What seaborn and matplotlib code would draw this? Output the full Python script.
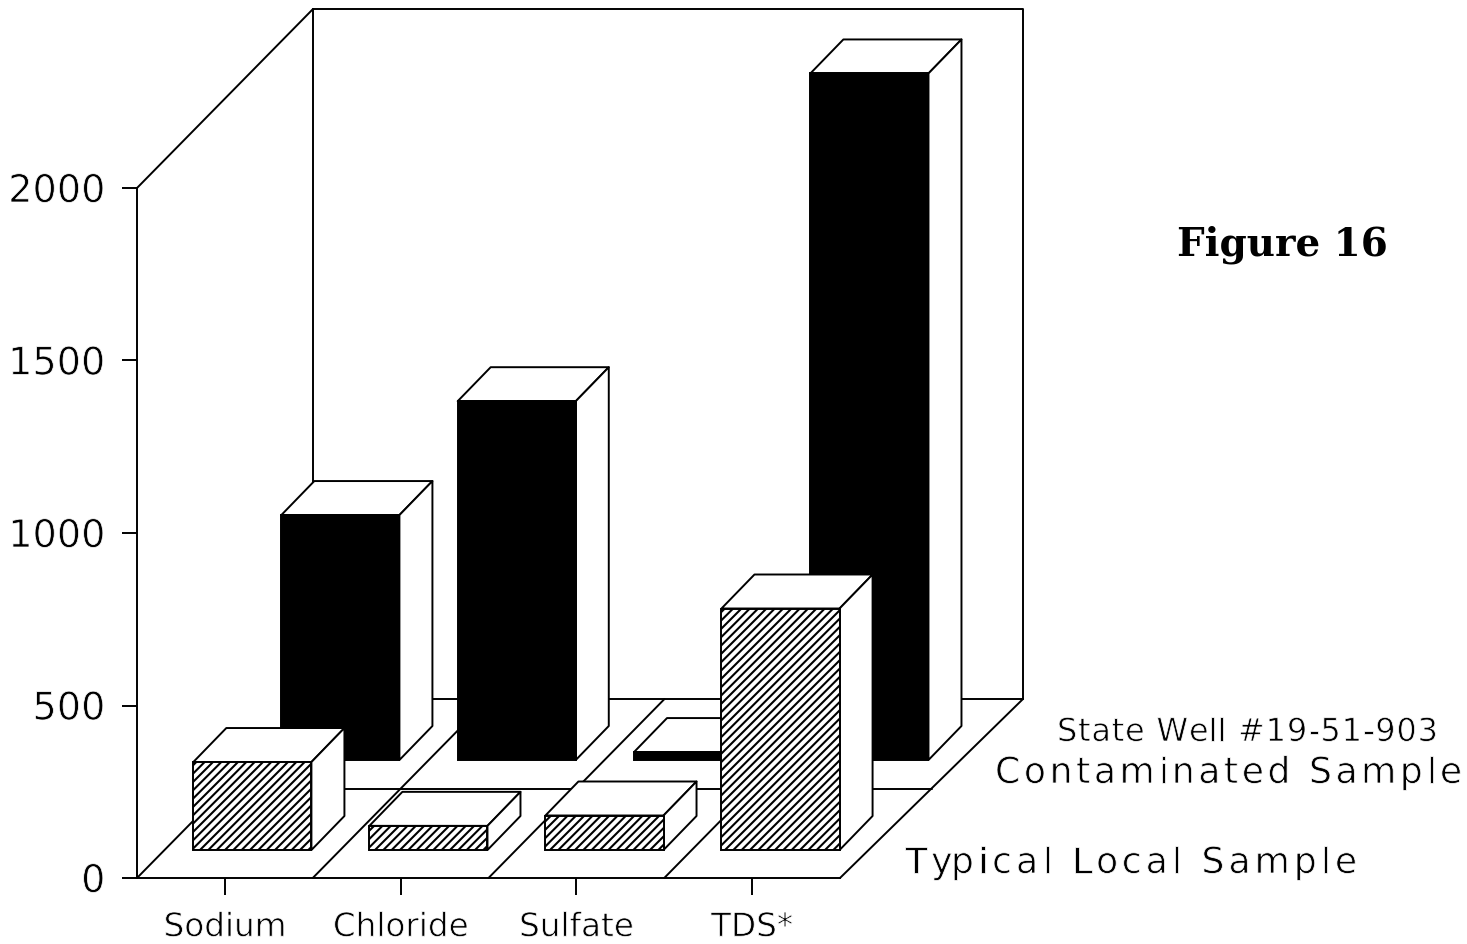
import matplotlib
matplotlib.use("Agg")
import matplotlib.pyplot as plt
import matplotlib.patheffects as pe
from matplotlib.patches import Polygon
from matplotlib.text import Text
from matplotlib.transforms import IdentityTransform
import seaborn as sns

categories = ["Sodium", "Chloride", "Sulfate", "TDS*"]
typical_local = [255, 70, 100, 700]
contaminated = [710, 1040, 23, 1990]
y_ticks = [0, 500, 1000, 1500, 2000]
y_tick_labels = ["0", "500", "1000", "1500", "2000"]

W, H = 1467, 944
sns.set_theme(style="white")
plt.rcParams["font.family"] = ["DejaVu Sans"]
plt.rcParams["hatch.linewidth"] = 1.5

fig = plt.figure(figsize=(W / 100, H / 100), dpi=100, facecolor="white")
L, R, B, T = 137, 840, 878, 188
ax = fig.add_axes([L / W, 1 - B / H, (R - L) / W, (B - T) / H])
ax.patch.set_alpha(0)

PX_X = (R - L) / 4
PX_Y = (B - T) / 2000
ddx = lambda px: px / PX_X
ddy = lambda px: px / PX_Y
LW = 1.4
thin = [pe.Stroke(linewidth=0.55, foreground="white")]


def seg(xs, ys, z=0.5):
    ax.plot(xs, ys, color="black", lw=LW, clip_on=False, zorder=z, solid_capstyle="round")


class TrackedText(Text):
    """One text object whose letters are spread to a given width when drawn."""

    def __init__(self, *args, target_width=None, **kw):
        super().__init__(*args, **kw)
        self.target_width = target_width

    def draw(self, renderer):
        s = self.get_text()
        fp = self.get_fontproperties()
        adv = lambda t: renderer.get_text_width_height_descent(t, fp, False)[0] if t else 0
        track = (self.target_width - adv(s)) / (len(s) - 1)
        x0, y0 = self.get_transform().transform(self.get_position())
        for i, ch in enumerate(s):
            if ch == " ":
                continue
            g = Text(x0 + adv(s[:i]) + i * track, y0, ch, fontproperties=fp, color=self.get_color(),
                     va="baseline", ha="left", transform=IdentityTransform(),
                     path_effects=self.get_path_effects())
            g.set_figure(self.get_figure())
            g.draw(renderer)


sns.barplot(x=categories, y=contaminated, color="black", saturation=1, width=0.672,
            edgecolor="black", linewidth=LW, ax=ax)
back_bars = list(ax.containers[0])
sns.barplot(x=categories, y=typical_local, color="white", saturation=1, width=0.672,
            edgecolor="black", linewidth=LW, hatch="////", ax=ax)
front_bars = list(ax.containers[1])

ax.set_xlim(-0.5, 3.5)
ax.set_ylim(0, 2000)

# walls and floor
D_X, D_X_R, D_Y = ddx(176), ddx(183), ddy(179)
x0, x1 = -0.5, 3.5
seg([x0, x0 + D_X], [2000, 2000 + D_Y])
seg([x0 + D_X, x1 + D_X_R, x1 + D_X_R], [2000 + D_Y, 2000 + D_Y, D_Y])
seg([x0 + D_X, x0 + D_X], [2000 + D_Y, D_Y])
seg([x0 + D_X, x1 + D_X_R], [D_Y, D_Y])
for i in range(4):
    seg([x0 + i, x0 + i + D_X], [0, D_Y])
seg([x1, x1 + D_X_R], [0, D_Y])
seg([x0 + D_X / 2, x1 + D_X_R / 2], [D_Y / 2, D_Y / 2])


def extrude(bars, off_x, spread, off_y, z):
    box_x, box_y = ddx(33), ddy(34)
    for i, bar in enumerate(bars):
        bar.set_x(bar.get_x() + ddx(off_x + spread * i))
        bar.set_y(ddy(off_y))
        bar.set_zorder(z + 0.1)
        bar.set_clip_on(False)
        xa, xb = bar.get_x(), bar.get_x() + bar.get_width()
        yb, yt = bar.get_y(), bar.get_y() + bar.get_height()
        top = [(xa, yt), (xb, yt), (xb + box_x, yt + box_y), (xa + box_x, yt + box_y)]
        side = [(xb, yb), (xb, yt), (xb + box_x, yt + box_y), (xb + box_x, yb + box_y)]
        for verts in (top, side):
            ax.add_patch(Polygon(verts, closed=True, facecolor="white", edgecolor="black",
                                 lw=LW, clip_on=False, zorder=z, joinstyle="round"))


extrude(back_bars, 115.5, 0.6, 118, 2)
extrude(front_bars, 27.5, 0.3, 28, 3)

# axes furniture
for s in ("top", "right"):
    ax.spines[s].set_visible(False)
for s in ("left", "bottom"):
    ax.spines[s].set_linewidth(LW)
    ax.spines[s].set_color("black")
ax.set_yticks(y_ticks, y_tick_labels)
ax.tick_params(axis="y", left=True, length=10.8, width=LW, pad=12, labelsize=27.5,
               color="black", labelcolor="black")
ax.tick_params(axis="x", bottom=True, length=12.2, width=LW, pad=11, labelsize=23.5,
               color="black", labelcolor="black")
for lab in ax.get_xticklabels() + ax.get_yticklabels():
    lab.set_path_effects(thin)

# side captions, spread to the width they span in the reference
for px, py, text, size, width in [(1057, 741, "State Well #19-51-903", 23, 381),
                                  (995, 783, "Contaminated Sample", 26, 467),
                                  (905, 873, "Typical Local Sample", 26, 452)]:
    t = TrackedText(px / W, 1 - py / H, text, target_width=width, fontsize=size, color="black",
                    va="baseline", ha="left", transform=fig.transFigure)
    t.set_path_effects(thin)
    fig.add_artist(t)

fig.text(1177 / W, 1 - 256 / H, "Figure 16", fontsize=28, family="DejaVu Serif", weight="bold",
         color="black", va="baseline", ha="left")

fig.savefig("out.png", dpi=100, facecolor="white")
